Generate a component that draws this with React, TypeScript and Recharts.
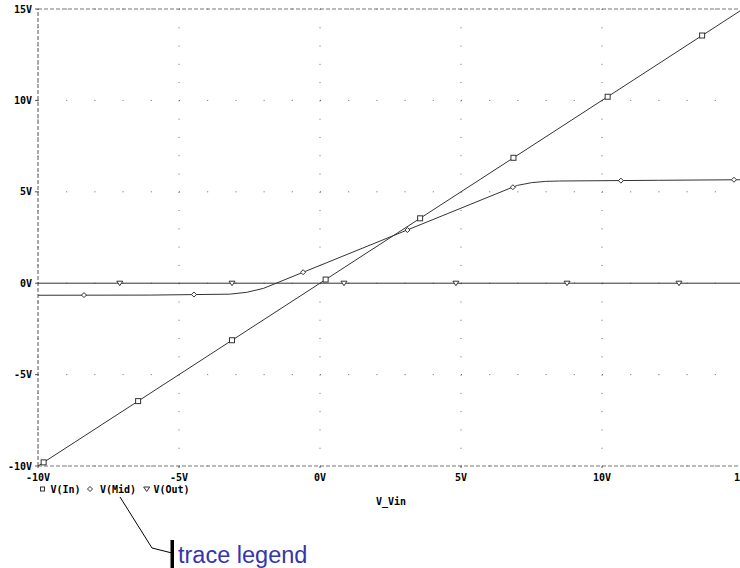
import React from "react";
import {
  ComposedChart,
  Line,
  Scatter,
  XAxis,
  YAxis,
  CartesianGrid,
  ReferenceLine,
} from "recharts";

// ---- data ----
const xTicks = [-10, -5, 0, 5, 10, 15];
const yTicks = [-10, -5, 0, 5, 10, 15];

const vInLine = [
  { x: -10, y: -10 },
  { x: 15, y: 15 },
];
const vInMarks = [
  { x: -9.8, y: -9.8 },
  { x: -6.45, y: -6.45 },
  { x: -3.12, y: -3.12 },
  { x: 0.2, y: 0.2 },
  { x: 3.55, y: 3.55 },
  { x: 6.86, y: 6.86 },
  { x: 10.2, y: 10.2 },
  { x: 13.55, y: 13.55 },
];

const vMidLine = [
  { x: -10, y: -0.66 },
  { x: -6, y: -0.65 },
  { x: -3.2, y: -0.6 },
  { x: -2.6, y: -0.5 },
  { x: -2.0, y: -0.28 },
  { x: 6.7, y: 5.17 },
  { x: 7.0, y: 5.35 },
  { x: 7.5, y: 5.5 },
  { x: 8.0, y: 5.57 },
  { x: 8.5, y: 5.59 },
  { x: 12, y: 5.63 },
  { x: 15, y: 5.66 },
];
const vMidMarks = [
  { x: -8.37, y: -0.65 },
  { x: -4.47, y: -0.62 },
  { x: -0.6, y: 0.6 },
  { x: 3.1, y: 2.91 },
  { x: 6.84, y: 5.25 },
  { x: 10.67, y: 5.61 },
  { x: 14.68, y: 5.66 },
];

const vOutLine = [
  { x: -10, y: 0 },
  { x: 15, y: 0 },
];
const vOutMarks = [
  { x: -7.1, y: 0 },
  { x: -3.12, y: 0 },
  { x: 0.85, y: 0 },
  { x: 4.82, y: 0 },
  { x: 8.76, y: 0 },
  { x: 12.73, y: 0 },
];

const legendNames = ["V(In)", "V(Mid)", "V(Out)"];
const xAxisTitle = "V_Vin";
const noteText = "trace legend";

// ---- styles ----
const INK = "#333333";
const MONO = "'DejaVu Sans Mono', monospace";

const SquareMark = (p: any) => (
  <rect x={p.cx - 2.5} y={p.cy - 2.5} width={5} height={5} fill="#fff" stroke={INK} strokeWidth={1} />
);
const DiamondMark = (p: any) => (
  <polygon
    points={`${p.cx},${p.cy - 2.5} ${p.cx + 2.5},${p.cy} ${p.cx},${p.cy + 2.5} ${p.cx - 2.5},${p.cy}`}
    fill="#fff"
    stroke={INK}
    strokeWidth={1}
  />
);
const TriMark = (p: any) => (
  <polygon
    points={`${p.cx - 3},${p.cy - 2} ${p.cx + 3},${p.cy - 2} ${p.cx},${p.cy + 2.5}`}
    fill="#fff"
    stroke={INK}
    strokeWidth={1}
  />
);

const XTick = (p: any) => (
  <text x={p.x} y={477} textAnchor="middle" dominantBaseline="central" fontFamily={MONO} fontWeight="bold" fontSize={10} fill="#000">
    {`${p.payload.value}V`}
  </text>
);
const YTick = (p: any) => (
  <text x={32} y={p.y} textAnchor="end" dominantBaseline="central" fontFamily={MONO} fontWeight="bold" fontSize={10} fill="#000">
    {`${p.payload.value}V`}
  </text>
);

export default function App() {
  return (
    <div style={{ position: "absolute", left: 0, top: 0, width: 740, height: 568, overflow: "hidden", background: "#fff" }}>
      <ComposedChart width={760} height={568} margin={{ top: 9, right: 17, bottom: 0, left: 0 }}>
        <CartesianGrid horizontal={true} vertical={false} stroke="#666" strokeDasharray="1 27.2" />
        <CartesianGrid horizontal={false} vertical={true} stroke="#666" strokeDasharray="1 17.28" />
        <XAxis
          type="number"
          dataKey="x"
          domain={[-10, 15]}
          ticks={xTicks}
          allowDataOverflow
          axisLine={false}
          tickLine={{ stroke: "#555" }}
          tickSize={2}
          height={102}
          tick={<XTick />}
          interval={0}
        />
        <YAxis
          type="number"
          dataKey="y"
          domain={[-10, 15]}
          ticks={yTicks}
          allowDataOverflow
          axisLine={false}
          tickLine={{ stroke: "#555" }}
          tickSize={3}
          width={38}
          tick={<YTick />}
          interval={0}
        />
        <ReferenceLine y={15} stroke="#777" strokeDasharray="4 2" />
        <ReferenceLine y={-10} stroke="#777" strokeDasharray="4 2" />
        <ReferenceLine x={-10} stroke="#555" strokeDasharray="4 2" />
        <Line data={vOutLine} dataKey="y" type="linear" stroke={INK} strokeWidth={1} dot={false} isAnimationActive={false} />
        <Line data={vMidLine} dataKey="y" type="linear" stroke={INK} strokeWidth={1} dot={false} isAnimationActive={false} />
        <Line data={vInLine} dataKey="y" type="linear" stroke={INK} strokeWidth={1} dot={false} isAnimationActive={false} />
        <Scatter data={vInMarks} shape={<SquareMark />} isAnimationActive={false} />
        <Scatter data={vMidMarks} shape={<DiamondMark />} isAnimationActive={false} />
        <Scatter data={vOutMarks} shape={<TriMark />} isAnimationActive={false} />
      </ComposedChart>
      <svg width={740} height={568} style={{ position: "absolute", left: 0, top: 0, pointerEvents: "none" }}>
        <rect x={40.5} y={487} width={4} height={4} fill="#fff" stroke={INK} />
        <text x={50.5} y={489.5} dominantBaseline="central" fontFamily={MONO} fontWeight="bold" fontSize={10} fill="#000">
          {legendNames[0]}
        </text>
        <polygon points="90,486.5 92.5,489 90,491.5 87.5,489" fill="#fff" stroke={INK} />
        <text x={100} y={489.5} dominantBaseline="central" fontFamily={MONO} fontWeight="bold" fontSize={10} fill="#000">
          {legendNames[1]}
        </text>
        <polygon points="143.7,487 149.7,487 146.7,491.5" fill="#fff" stroke={INK} />
        <text x={153.5} y={489.5} dominantBaseline="central" fontFamily={MONO} fontWeight="bold" fontSize={10} fill="#000">
          {legendNames[2]}
        </text>
        <text x={391} y={501} textAnchor="middle" dominantBaseline="central" fontFamily={MONO} fontWeight="bold" fontSize={10} fill="#000">
          {xAxisTitle}
        </text>
        <polyline points="120,497 152,548 172,553" fill="none" stroke="#000" strokeWidth={1} />
        <rect x={170.5} y={540} width={3.5} height={28} fill="#000" />
        <text x={178} y={563} fontFamily="'Liberation Sans', Arial, sans-serif" fontSize={23.5} fill="#3535ad">
          {noteText}
        </text>
      </svg>
    </div>
  );
}
